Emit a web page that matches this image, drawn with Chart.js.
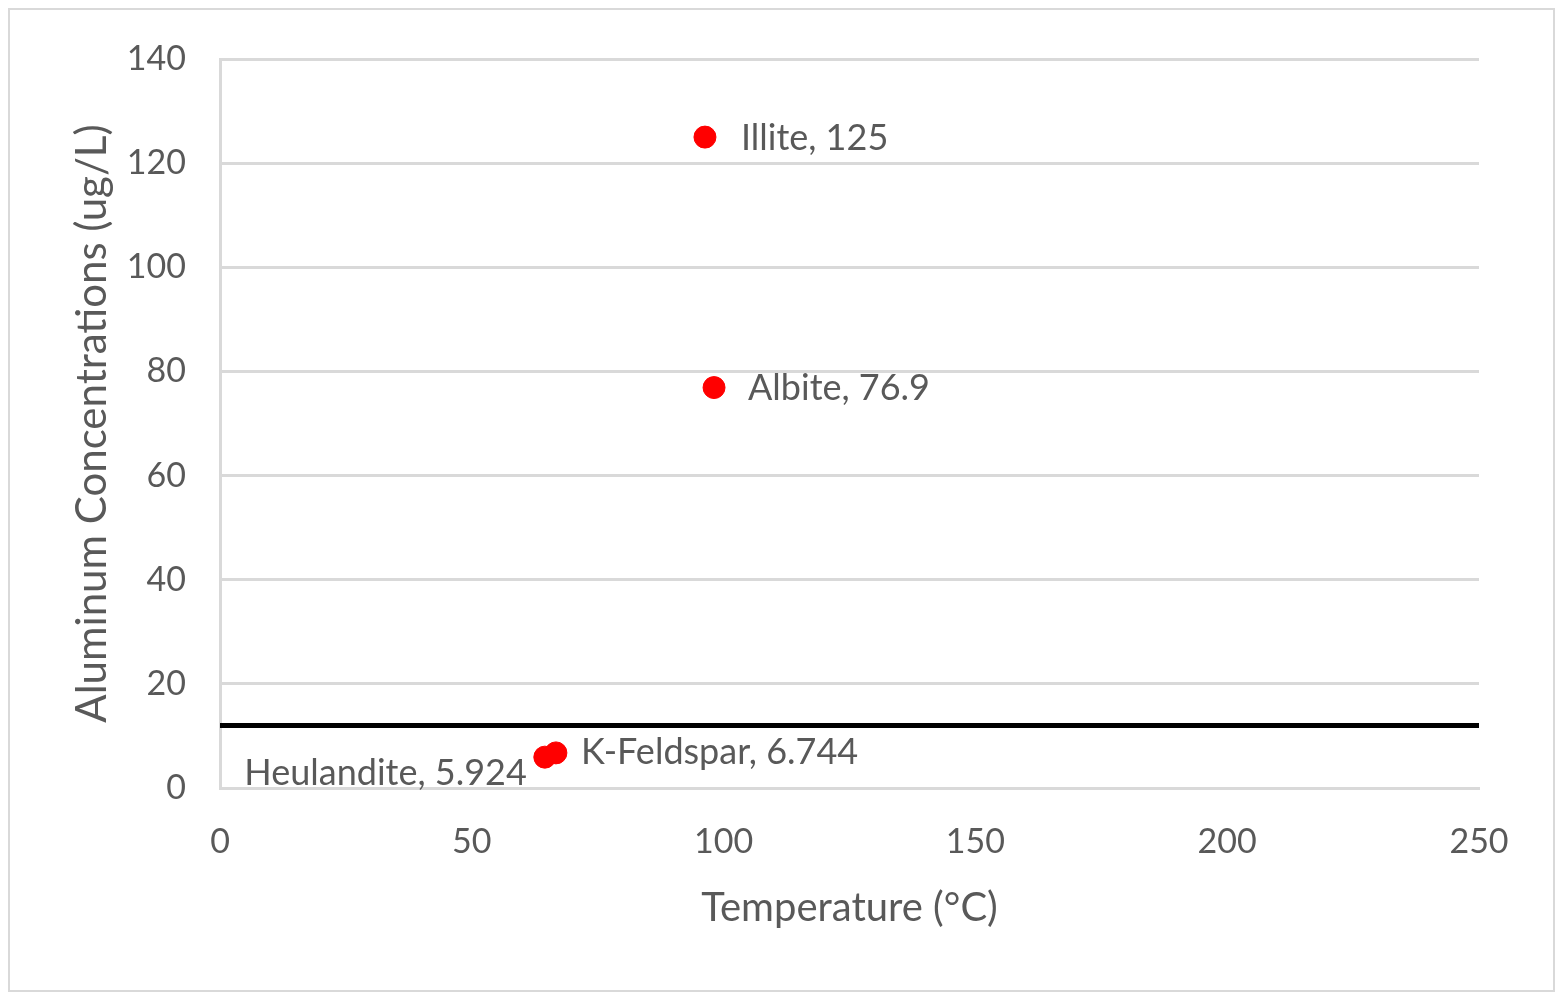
<!DOCTYPE html>
<html>
<head>
<meta charset="utf-8">
<script src="https://cdn.jsdelivr.net/npm/chart.js@4/dist/chart.umd.min.js"></script>
<style>
  html, body { margin: 0; padding: 0; background: #fff; }
  #wrap { position: relative; width: 1556px; height: 993px; }
  #frame { position: absolute; left: 8px; top: 8px; width: 1543px; height: 980px;
           border: 2px solid #d9d9d9; pointer-events: none; }
  canvas { display: block; }
</style>
</head>
<body>
<div id="wrap">
  <canvas id="c" width="1556" height="993"></canvas>
  <div id="frame"></div>
</div>
<script>
// Mineral samples: temperature (°C) vs aluminum concentration (ug/L)
const minerals = ['Illite', 'Albite', 'K-Feldspar', 'Heulandite'];
const temperatures = [96.3, 98.1, 66.7, 64.5];
const aluminum = [125, 76.9, 6.744, 5.924];

// Horizontal reference level
const limitLevel = 12;
const limitSpan = [0, 250];

const xTicks = [0, 50, 100, 150, 200, 250];
const yTicks = [0, 20, 40, 60, 80, 100, 120, 140];

const FONT = 'Lato, "Open Sans", sans-serif';
const GREY = '#595959';

// Where each point's label sits relative to the point
const labelPlacement = {
  'Illite':     { side: 'right', dx: 36, dy: 1 },
  'Albite':     { side: 'right', dx: 34, dy: 1 },
  'K-Feldspar': { side: 'right', dx: 25, dy: 0 },
  'Heulandite': { side: 'left',  dx: 18, dy: 16 }
};

const pointLabels = {
  id: 'pointLabels',
  afterDatasetsDraw(chart) {
    const ctx = chart.ctx;
    const meta = chart.getDatasetMeta(1);
    ctx.save();
    ctx.font = '36px ' + FONT;
    ctx.fillStyle = GREY;
    ctx.textBaseline = 'middle';
    meta.data.forEach((el, i) => {
      const name = minerals[i];
      const p = labelPlacement[name];
      const text = name + ', ' + aluminum[i];
      if (p.side === 'right') {
        ctx.textAlign = 'left';
        ctx.fillText(text, el.x + p.dx, el.y + p.dy);
      } else {
        ctx.textAlign = 'right';
        ctx.fillText(text, el.x - p.dx, el.y + p.dy);
      }
    });
    ctx.restore();
  }
};

new Chart(document.getElementById('c'), {
  type: 'scatter',
  data: {
    datasets: [
      {
        type: 'line',
        data: limitSpan.map(x => ({ x, y: limitLevel })),
        borderColor: '#000',
        borderWidth: 5,
        pointRadius: 0,
        fill: false,
        order: 2
      },
      {
        data: temperatures.map((t, i) => ({ x: t, y: aluminum[i] })),
        backgroundColor: '#ff0000',
        borderColor: '#ff0000',
        pointRadius: 11,
        pointHoverRadius: 11,
        order: 1
      }
    ]
  },
  options: {
    responsive: false,
    animation: false,
    events: [],
    layout: { padding: { left: 0, top: 59, right: 77, bottom: 0 } },
    plugins: { legend: { display: false }, tooltip: { enabled: false } },
    scales: {
      x: {
        type: 'linear',
        min: 0, max: 250,
        afterBuildTicks(scale) { scale.ticks = xTicks.map(v => ({ value: v })); },
        afterFit(scale) { scale.height = 993 - 788; },
        grid: { display: false, drawTicks: false },
        border: { display: true, color: '#d9d9d9', width: 3 },
        ticks: { color: GREY, font: { family: FONT, size: 34 }, padding: 34 },
        title: {
          display: true, text: 'Temperature (°C)', color: GREY,
          font: { family: FONT, size: 40 }, padding: { top: 0, bottom: 61 }
        }
      },
      y: {
        type: 'linear',
        min: 0, max: 140,
        afterBuildTicks(scale) { scale.ticks = yTicks.map(v => ({ value: v })); },
        afterFit(scale) { scale.width = 220; },
        grid: { color: '#d9d9d9', lineWidth: 3, drawTicks: false },
        border: { display: true, color: '#d9d9d9', width: 3 },
        ticks: { color: GREY, font: { family: FONT, size: 34 }, padding: 34 },
        title: {
          display: true, text: 'Aluminum Concentrations (ug/L)', color: GREY,
          font: { family: FONT, size: 42 }, padding: { top: 67, bottom: 0 }
        }
      }
    }
  },
  plugins: [pointLabels]
});
</script>
</body>
</html>
